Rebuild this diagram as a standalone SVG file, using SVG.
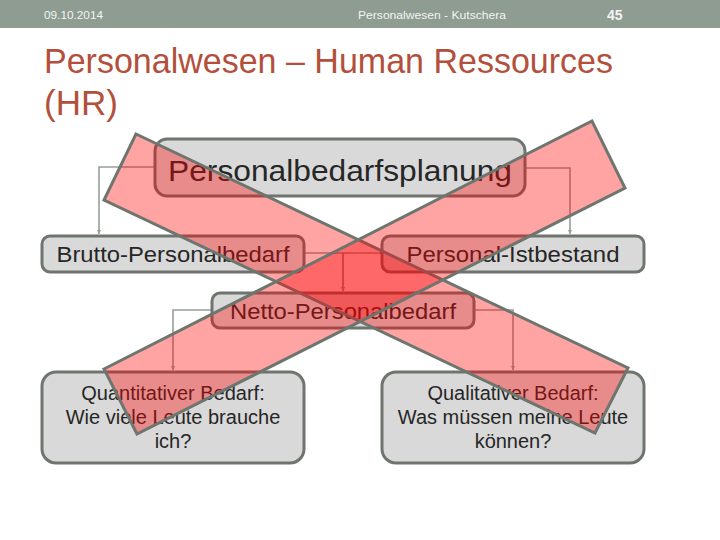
<svg xmlns="http://www.w3.org/2000/svg" width="720" height="540" viewBox="0 0 720 540">
<style>
.hdr{font-family:"Liberation Sans",Arial,sans-serif;fill:#f4f4f4;font-size:11px}
.title{font-family:"Liberation Sans",Arial,sans-serif;fill:#b3503c;font-size:35px}
.node rect{fill:#d9d9d9;stroke:#6e756f;stroke-width:3}
.node text{font-family:"Liberation Sans",Arial,sans-serif;fill:#262626;text-anchor:middle}
.conn path{fill:none;stroke:#979e98;stroke-width:1.6;marker-end:url(#ah)}
.band{fill:#ff0000;fill-opacity:0.36;stroke:#6e756f;stroke-width:3;stroke-linejoin:miter}
</style>
<defs>
<marker id="ah" viewBox="0 0 6 6" refX="6" refY="3" markerWidth="4" markerHeight="4" orient="auto" markerUnits="userSpaceOnUse">
<path d="M0,0 L6,3 L0,6 z" fill="#979e98"/>
</marker>
</defs>
<rect width="720" height="540" fill="#ffffff"/>
<rect x="0" y="0" width="720" height="28" fill="#8e9c91"/>
<text class="hdr" x="44" y="19" textLength="59" lengthAdjust="spacingAndGlyphs">09.10.2014</text>
<text class="hdr" x="358" y="19" textLength="148" lengthAdjust="spacingAndGlyphs">Personalwesen - Kutschera</text>
<text class="hdr" x="607" y="20" style="font-weight:bold;font-size:14px">45</text>
<text class="title" x="44" y="73" textLength="569" lengthAdjust="spacingAndGlyphs">Personalwesen – Human Ressources</text>
<text class="title" x="44" y="115">(HR)</text>

<g id="connectors" class="conn">
<path d="M155,167 H99 V234"/>
<path d="M525,168 H570 V234"/>
<path d="M304,253 H343 V291"/>
<path d="M382,253 H343 V291"/>
<path d="M212,310 H173 V370"/>
<path d="M474,310 H513 V370"/>
</g>

<g id="n-planung" class="node">
<rect x="155" y="139" width="370" height="57" rx="12"/>
<text x="340" y="181" style="font-size:30px" textLength="344" lengthAdjust="spacingAndGlyphs">Personalbedarfsplanung</text>
</g>
<g id="n-brutto" class="node">
<rect x="42" y="236" width="262" height="36" rx="8"/>
<text x="173" y="262" style="font-size:22px" textLength="233" lengthAdjust="spacingAndGlyphs">Brutto-Personalbedarf</text>
</g>
<g id="n-ist" class="node">
<rect x="382" y="236" width="262" height="36" rx="8"/>
<text x="513" y="262" style="font-size:22px" textLength="213" lengthAdjust="spacingAndGlyphs">Personal-Istbestand</text>
</g>
<g id="n-netto" class="node">
<rect x="212" y="293" width="262" height="35" rx="8"/>
<text x="343" y="319" style="font-size:22px" textLength="226" lengthAdjust="spacingAndGlyphs">Netto-Personalbedarf</text>
</g>
<g id="n-quant" class="node">
<rect x="42" y="372" width="262" height="91" rx="14"/>
<text x="173" y="400" style="font-size:20px">Quantitativer Bedarf:</text>
<text x="173" y="424" style="font-size:20px">Wie viele Leute brauche</text>
<text x="173" y="448" style="font-size:20px">ich?</text>
</g>
<g id="n-qual" class="node">
<rect x="382" y="372" width="262" height="91" rx="14"/>
<text x="513" y="400" style="font-size:20px">Qualitativer Bedarf:</text>
<text x="513" y="424" style="font-size:20px">Was müssen meine Leute</text>
<text x="513" y="448" style="font-size:20px">können?</text>
</g>

<g id="cross">
<polygon class="band" points="136,134 628,368 595,433 104,200"/>
<polygon class="band" points="104,369 592,121 625,188 137,434"/>
</g>
</svg>
